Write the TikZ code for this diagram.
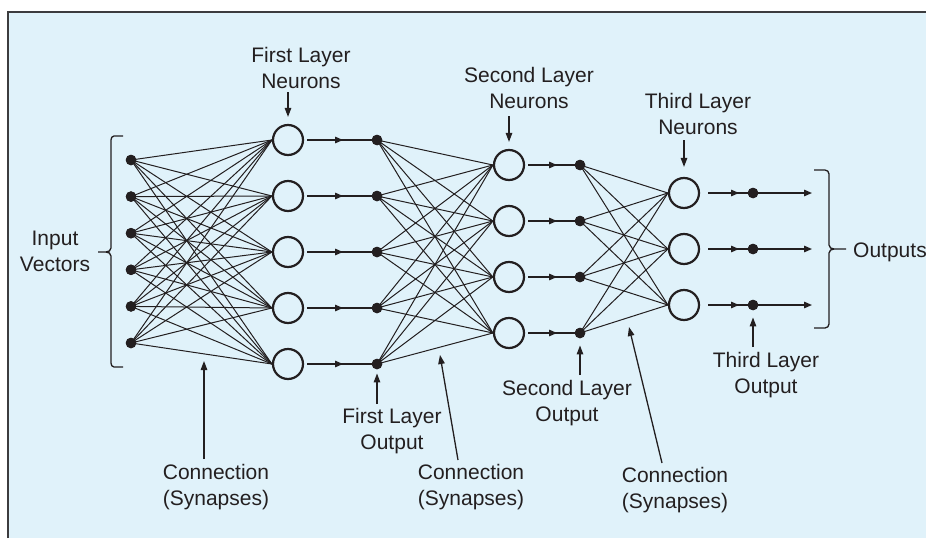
\documentclass[tikz,border=0pt]{standalone}
\usepackage{fontspec}
\setmainfont{Liberation Sans}
\usetikzlibrary{arrows.meta,calc}
\definecolor{bgblue}{RGB}{224,242,250}
\definecolor{ink}{RGB}{35,31,32}
\definecolor{framec}{RGB}{60,60,62}
\begin{document}
\begin{tikzpicture}[x=1pt,y=-1pt,
  lbl/.style={font=\fontsize{21}{25.5}\selectfont, text=ink, align=center, inner sep=0pt, anchor=base},
  neuron/.style={circle, draw=ink, line width=2.2pt, fill=bgblue, minimum size=30pt, inner sep=0pt},
  dotnode/.style={circle, fill=ink, minimum size=10.5pt, inner sep=0pt},
  syn/.style={draw=ink, line width=1pt},
  arr/.style={draw=ink, line width=1.3pt, -{Triangle[length=9pt,width=6.5pt]}},
  harr/.style={draw=ink, line width=1.4pt, -{Triangle[length=8pt,width=6.5pt]}},
  hline/.style={draw=ink, line width=2pt},
  brace/.style={draw=ink, line width=1.3pt}]
\useasboundingbox (0,0) rectangle (926,538);
% panel
\fill[bgblue] (8,12) rectangle (926,538);
\draw[framec, line width=2pt] (8,538) -- (8,12) -- (926,12);

% nodes
\foreach \i in {1,...,6} {
  \pgfmathsetmacro\yy{160+36.6*(\i-1)}
  \node[dotnode] (in-\i) at (131,\yy) {};
}
\foreach \i in {1,...,5} {
  \pgfmathsetmacro\yy{140+56*(\i-1)}
  \node[neuron] (n1-\i) at (288,\yy) {};
  \node[dotnode] (o1-\i) at (377,\yy) {};
}
\foreach \i in {1,...,4} {
  \pgfmathsetmacro\yy{165+56*(\i-1)}
  \node[neuron] (n2-\i) at (509,\yy) {};
  \node[dotnode] (o2-\i) at (580,\yy) {};
}
\foreach \i in {1,...,3} {
  \pgfmathsetmacro\yy{193+56*(\i-1)}
  \node[neuron] (n3-\i) at (684,\yy) {};
  \node[dotnode] (o3-\i) at (753,\yy) {};
  \coordinate (out-\i) at (812,\yy);
}

% synapses
\foreach \a in {1,...,6} { \foreach \b in {1,...,5} { \draw[syn] (in-\a.center) -- (n1-\b.west); } }
\foreach \a in {1,...,5} { \foreach \b in {1,...,4} { \draw[syn] (o1-\a.center) -- (n2-\b.west); } }
\foreach \a in {1,...,4} { \foreach \b in {1,...,3} { \draw[syn] (o2-\a.center) -- (n3-\b.west); } }

% neuron outputs
\foreach \i in {1,...,5} {
  \draw[harr] ([xshift=3pt]n1-\i.east) -- ([xshift=-34pt]o1-\i.center);
  \draw[hline] ([xshift=-36pt]o1-\i.center) -- (o1-\i.center);
}
\foreach \i in {1,...,4} {
  \draw[harr] ([xshift=3pt]n2-\i.east) -- ([xshift=-23pt]o2-\i.center);
  \draw[hline] ([xshift=-25pt]o2-\i.center) -- (o2-\i.center);
}
\foreach \i in {1,...,3} {
  \draw[harr] ([xshift=8pt]n3-\i.east) -- ([xshift=-14pt]o3-\i.center);
  \draw[hline] ([xshift=-16pt]o3-\i.center) -- (o3-\i.center);
  \draw[harr] (o3-\i.center) -- (out-\i);
}
% redraw dots on top
\foreach \i in {1,...,6} { \fill[ink] (in-\i) circle (5.25pt); }
\foreach \i in {1,...,5} { \fill[ink] (o1-\i) circle (5.25pt); }
\foreach \i in {1,...,4} { \fill[ink] (o2-\i) circle (5.25pt); }
\foreach \i in {1,...,3} { \fill[ink] (o3-\i) circle (5.25pt); }

% braces
\draw[brace] (123,136) -- (114,136) to[out=180,in=90] (111,140) -- (111,248)
  to[out=-90,in=0] (106,252) -- (98,252);
\draw[brace] (106,252) to[out=0,in=90] (111,256) -- (111,363)
  to[out=-90,in=180] (114,367) -- (123,367);
\draw[brace] (814,170) -- (825,170) to[out=0,in=90] (829,174) -- (829,245)
  to[out=-90,in=180] (834,249) -- (846,249);
\draw[brace] (834,249) to[out=180,in=90] (829,253) -- (829,324)
  to[out=-90,in=0] (825,328) -- (814,328);

% labels (base = baseline of the last line)
\node[lbl] (inv) at (55,271) {Input\\Vectors};
\node[lbl, anchor=base west] (outl) at (853,257) {Outputs};
\node[lbl] (fln) at (301,88) {First Layer\\Neurons};
\node[lbl] (sln) at (529,108) {Second Layer\\Neurons};
\node[lbl] (tln) at (698,134) {Third Layer\\Neurons};
\node[lbl] (flo) at (392,449) {First Layer\\Output};
\node[lbl] (slo) at (567,421) {Second Layer\\Output};
\node[lbl] (tlo) at (766,393) {Third Layer\\Output};
\node[lbl] (c1) at (216,505) {Connection\\(Synapses)};
\node[lbl] (c2) at (471,505) {Connection\\(Synapses)};
\node[lbl] (c3) at (675,508) {Connection\\(Synapses)};

% label arrows
\coordinate (flnT) at (288,92);
\coordinate (slnT) at (509,116);
\coordinate (tlnT) at (684,140);
\draw[arr, shorten >=7pt] (flnT) -- (n1-1);
\draw[arr, shorten >=7pt] (slnT) -- (n2-1);
\draw[arr, shorten >=10pt] (tlnT) -- (n3-1);
\coordinate (floT) at (377,404);
\coordinate (sloT) at (580,375);
\coordinate (tloT) at (753,347);
\draw[arr, shorten >=4pt] (floT) -- (o1-5);
\draw[arr, shorten >=7pt] (sloT) -- (o2-4);
\draw[arr, shorten >=7pt] (tloT) -- (o3-3);
\coordinate (c1T) at (204,459); \coordinate (c1H) at (204,361);
\coordinate (c2T) at (458,460); \coordinate (c2H) at (440,355);
\coordinate (c3T) at (662,463); \coordinate (c3H) at (629,327);
\draw[arr] (c1T) -- (c1H);
\draw[arr] (c2T) -- (c2H);
\draw[arr] (c3T) -- (c3H);
\end{tikzpicture}
\end{document}
